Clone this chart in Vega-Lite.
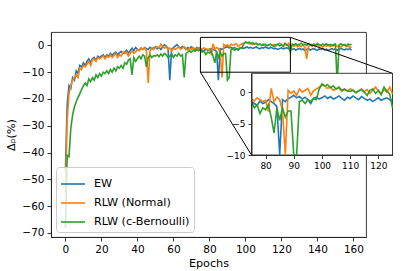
{
"$schema":"https://vega.github.io/schema/vega-lite/v6.json",
"width":315,"height":205,"autosize":"none",
"padding":{"left":51,"top":32,"right":41,"bottom":34},
"config":{"font":"DejaVu Sans","view":{"stroke":"#222","strokeWidth":0.9},
"axis":{"grid":false,"domainColor":"#222","domainWidth":0.9,"tickColor":"#222","tickWidth":0.9,"tickSize":4,"labelColor":"black","titleColor":"black","labelFontSize":10.5,"titleFontSize":11.2,"titleFontWeight":"normal","labelPadding":3,"labelFlush":false,"labelOverlap":false},
"axisQuantitative":{"labelOverlap":false}},
"datasets":{"d":[
{"e":0,"EW":-47,"RLW (Normal)":-55,"RLW (c-Bernoulli)":-68},
{"e":1,"EW":-22,"RLW (Normal)":-28,"RLW (c-Bernoulli)":-41},
{"e":2,"EW":-15,"RLW (Normal)":-18,"RLW (c-Bernoulli)":-41.5},
{"e":3,"EW":-16,"RLW (Normal)":-15,"RLW (c-Bernoulli)":-31},
{"e":4,"EW":-12,"RLW (Normal)":-13,"RLW (c-Bernoulli)":-26},
{"e":5,"EW":-13,"RLW (Normal)":-12,"RLW (c-Bernoulli)":-23},
{"e":6,"EW":-9.5,"RLW (Normal)":-11,"RLW (c-Bernoulli)":-21},
{"e":7,"EW":-10.5,"RLW (Normal)":-12,"RLW (c-Bernoulli)":-19.5},
{"e":8,"EW":-7.5,"RLW (Normal)":-8.5,"RLW (c-Bernoulli)":-18},
{"e":9,"EW":-8,"RLW (Normal)":-9,"RLW (c-Bernoulli)":-16.5},
{"e":10,"EW":-6.5,"RLW (Normal)":-7.5,"RLW (c-Bernoulli)":-15},
{"e":11,"EW":-7.5,"RLW (Normal)":-8,"RLW (c-Bernoulli)":-14},
{"e":12,"EW":-6,"RLW (Normal)":-7,"RLW (c-Bernoulli)":-15},
{"e":13,"EW":-5,"RLW (Normal)":-6,"RLW (c-Bernoulli)":-12.5},
{"e":14,"EW":-6.5,"RLW (Normal)":-7.5,"RLW (c-Bernoulli)":-13.5},
{"e":15,"EW":-5,"RLW (Normal)":-5.5,"RLW (c-Bernoulli)":-12},
{"e":16,"EW":-4.5,"RLW (Normal)":-5,"RLW (c-Bernoulli)":-13},
{"e":17,"EW":-5.5,"RLW (Normal)":-6,"RLW (c-Bernoulli)":-11},
{"e":18,"EW":-4,"RLW (Normal)":-4.5,"RLW (c-Bernoulli)":-12},
{"e":19,"EW":-4.5,"RLW (Normal)":-5,"RLW (c-Bernoulli)":-10.5},
{"e":20,"EW":-4,"RLW (Normal)":-4.5,"RLW (c-Bernoulli)":-11.5},
{"e":21,"EW":-3.5,"RLW (Normal)":-4,"RLW (c-Bernoulli)":-10},
{"e":22,"EW":-4.5,"RLW (Normal)":-5,"RLW (c-Bernoulli)":-10.5},
{"e":23,"EW":-3.5,"RLW (Normal)":-4,"RLW (c-Bernoulli)":-9.5},
{"e":24,"EW":-4,"RLW (Normal)":-4.5,"RLW (c-Bernoulli)":-10.5},
{"e":25,"EW":-3,"RLW (Normal)":-3.5,"RLW (c-Bernoulli)":-9},
{"e":26,"EW":-3.8,"RLW (Normal)":-4.5,"RLW (c-Bernoulli)":-10},
{"e":27,"EW":-3,"RLW (Normal)":-3.8,"RLW (c-Bernoulli)":-8.5},
{"e":28,"EW":-2.5,"RLW (Normal)":-3,"RLW (c-Bernoulli)":-9.5},
{"e":29,"EW":-3.5,"RLW (Normal)":-4.5,"RLW (c-Bernoulli)":-8},
{"e":30,"EW":-2.8,"RLW (Normal)":-3.5,"RLW (c-Bernoulli)":-8.5},
{"e":31,"EW":-2.2,"RLW (Normal)":-4,"RLW (c-Bernoulli)":-7.5},
{"e":32,"EW":-3,"RLW (Normal)":-2.5,"RLW (c-Bernoulli)":-8.5},
{"e":33,"EW":-2.5,"RLW (Normal)":-3,"RLW (c-Bernoulli)":-6.5},
{"e":34,"EW":-1.8,"RLW (Normal)":-2.5,"RLW (c-Bernoulli)":-7},
{"e":35,"EW":-2.8,"RLW (Normal)":-4,"RLW (c-Bernoulli)":-5.5},
{"e":36,"EW":-2,"RLW (Normal)":-3,"RLW (c-Bernoulli)":-5},
{"e":37,"EW":-1,"RLW (Normal)":-2,"RLW (c-Bernoulli)":-11},
{"e":38,"EW":-2,"RLW (Normal)":-3,"RLW (c-Bernoulli)":-4.5},
{"e":39,"EW":-0.8,"RLW (Normal)":-2.5,"RLW (c-Bernoulli)":-6},
{"e":40,"EW":-1.5,"RLW (Normal)":-1.5,"RLW (c-Bernoulli)":-5},
{"e":41,"EW":-1.8,"RLW (Normal)":-2,"RLW (c-Bernoulli)":-4},
{"e":42,"EW":-1,"RLW (Normal)":-1,"RLW (c-Bernoulli)":-5},
{"e":43,"EW":-1.5,"RLW (Normal)":-1.5,"RLW (c-Bernoulli)":-3.5},
{"e":44,"EW":-0.8,"RLW (Normal)":-1,"RLW (c-Bernoulli)":-4},
{"e":45,"EW":-1.2,"RLW (Normal)":-2,"RLW (c-Bernoulli)":-8},
{"e":46,"EW":-1.5,"RLW (Normal)":-14,"RLW (c-Bernoulli)":-4.5},
{"e":47,"EW":-0.7,"RLW (Normal)":-2,"RLW (c-Bernoulli)":-3.5},
{"e":48,"EW":-1.2,"RLW (Normal)":-1.2,"RLW (c-Bernoulli)":-4.5},
{"e":49,"EW":-1,"RLW (Normal)":-1.5,"RLW (c-Bernoulli)":-3.8},
{"e":50,"EW":-0.5,"RLW (Normal)":-0.8,"RLW (c-Bernoulli)":-4},
{"e":51,"EW":-1.2,"RLW (Normal)":-0.5,"RLW (c-Bernoulli)":-3.5},
{"e":52,"EW":-0.8,"RLW (Normal)":-1,"RLW (c-Bernoulli)":-4.2},
{"e":53,"EW":-1.5,"RLW (Normal)":0.5,"RLW (c-Bernoulli)":-3.2},
{"e":54,"EW":-0.5,"RLW (Normal)":-0.5,"RLW (c-Bernoulli)":-4},
{"e":55,"EW":0.2,"RLW (Normal)":-1,"RLW (c-Bernoulli)":-3},
{"e":56,"EW":-0.3,"RLW (Normal)":-0.3,"RLW (c-Bernoulli)":-3.5},
{"e":57,"EW":-1,"RLW (Normal)":-1.5,"RLW (c-Bernoulli)":-4.5},
{"e":58,"EW":-13,"RLW (Normal)":-1,"RLW (c-Bernoulli)":-4},
{"e":59,"EW":-1.5,"RLW (Normal)":-2,"RLW (c-Bernoulli)":-3.2},
{"e":60,"EW":-0.8,"RLW (Normal)":-1.2,"RLW (c-Bernoulli)":-4.5},
{"e":61,"EW":-0.3,"RLW (Normal)":-1.5,"RLW (c-Bernoulli)":-3.5},
{"e":62,"EW":0.3,"RLW (Normal)":-1,"RLW (c-Bernoulli)":-4},
{"e":63,"EW":-0.5,"RLW (Normal)":-0.5,"RLW (c-Bernoulli)":-3},
{"e":64,"EW":-1,"RLW (Normal)":-1.5,"RLW (c-Bernoulli)":-4},
{"e":65,"EW":-0.4,"RLW (Normal)":-1,"RLW (c-Bernoulli)":-3.5},
{"e":66,"EW":-0.8,"RLW (Normal)":-0.5,"RLW (c-Bernoulli)":-12},
{"e":67,"EW":-1.5,"RLW (Normal)":-1.2,"RLW (c-Bernoulli)":-3},
{"e":68,"EW":-0.8,"RLW (Normal)":-1.8,"RLW (c-Bernoulli)":-2.5},
{"e":69,"EW":-1.2,"RLW (Normal)":-1,"RLW (c-Bernoulli)":-2},
{"e":70,"EW":-0.5,"RLW (Normal)":-1.5,"RLW (c-Bernoulli)":-2.5},
{"e":71,"EW":-1,"RLW (Normal)":-0.8,"RLW (c-Bernoulli)":-1.8},
{"e":72,"EW":-1.6,"RLW (Normal)":-1.2,"RLW (c-Bernoulli)":-2.2},
{"e":73,"EW":-0.8,"RLW (Normal)":-1.5,"RLW (c-Bernoulli)":-1.5},
{"e":74,"EW":-1.2,"RLW (Normal)":-0.8,"RLW (c-Bernoulli)":-2},
{"e":75,"EW":-1.5,"RLW (Normal)":-1.1,"RLW (c-Bernoulli)":-1.5},
{"e":76,"EW":-1.8,"RLW (Normal)":-1.4,"RLW (c-Bernoulli)":-2.5},
{"e":77,"EW":-2.1,"RLW (Normal)":-0.9,"RLW (c-Bernoulli)":-2},
{"e":78,"EW":-1.4,"RLW (Normal)":-1.2,"RLW (c-Bernoulli)":-3.4},
{"e":79,"EW":-1.8,"RLW (Normal)":-1.5,"RLW (c-Bernoulli)":-2.5},
{"e":80,"EW":-1.6,"RLW (Normal)":-1.3,"RLW (c-Bernoulli)":-2.8},
{"e":81,"EW":-1.2,"RLW (Normal)":-3.1,"RLW (c-Bernoulli)":-2},
{"e":82,"EW":-1.5,"RLW (Normal)":0.6,"RLW (c-Bernoulli)":-4},
{"e":83,"EW":-1.8,"RLW (Normal)":-1.5,"RLW (c-Bernoulli)":-6.5},
{"e":84,"EW":-2.3,"RLW (Normal)":-0.8,"RLW (c-Bernoulli)":-2.5},
{"e":85,"EW":-13,"RLW (Normal)":-1.2,"RLW (c-Bernoulli)":-4.5},
{"e":86,"EW":-1.2,"RLW (Normal)":-3,"RLW (c-Bernoulli)":-2.5},
{"e":87,"EW":-1.5,"RLW (Normal)":-12,"RLW (c-Bernoulli)":-4},
{"e":88,"EW":-1,"RLW (Normal)":0.3,"RLW (c-Bernoulli)":-3},
{"e":89,"EW":-0.8,"RLW (Normal)":-0.2,"RLW (c-Bernoulli)":-3},
{"e":90,"EW":-0.5,"RLW (Normal)":0.2,"RLW (c-Bernoulli)":-13},
{"e":91,"EW":-0.9,"RLW (Normal)":-0.5,"RLW (c-Bernoulli)":-12},
{"e":92,"EW":-0.7,"RLW (Normal)":0.5,"RLW (c-Bernoulli)":-1.5},
{"e":93,"EW":-1.1,"RLW (Normal)":0,"RLW (c-Bernoulli)":-1.3},
{"e":94,"EW":-0.8,"RLW (Normal)":0.3,"RLW (c-Bernoulli)":-1.8},
{"e":95,"EW":-1.2,"RLW (Normal)":0.6,"RLW (c-Bernoulli)":-1.2},
{"e":96,"EW":-1.8,"RLW (Normal)":-0.5,"RLW (c-Bernoulli)":-1.5},
{"e":97,"EW":-1,"RLW (Normal)":0.2,"RLW (c-Bernoulli)":-1},
{"e":98,"EW":-0.8,"RLW (Normal)":0.5,"RLW (c-Bernoulli)":-1.2},
{"e":99,"EW":-1.1,"RLW (Normal)":0.8,"RLW (c-Bernoulli)":0.5},
{"e":100,"EW":-0.9,"RLW (Normal)":1.1,"RLW (c-Bernoulli)":1.3},
{"e":101,"EW":-0.6,"RLW (Normal)":1,"RLW (c-Bernoulli)":1},
{"e":102,"EW":-1,"RLW (Normal)":0.6,"RLW (c-Bernoulli)":1.2},
{"e":103,"EW":-0.7,"RLW (Normal)":0.8,"RLW (c-Bernoulli)":0.7},
{"e":104,"EW":-1.1,"RLW (Normal)":0.3,"RLW (c-Bernoulli)":1},
{"e":105,"EW":-0.9,"RLW (Normal)":0.5,"RLW (c-Bernoulli)":0.5},
{"e":106,"EW":-0.6,"RLW (Normal)":0.7,"RLW (c-Bernoulli)":0.8},
{"e":107,"EW":-1,"RLW (Normal)":0.1,"RLW (c-Bernoulli)":0.3},
{"e":108,"EW":-1.3,"RLW (Normal)":0.4,"RLW (c-Bernoulli)":0.5},
{"e":109,"EW":-0.8,"RLW (Normal)":0.2,"RLW (c-Bernoulli)":0.2},
{"e":110,"EW":-1,"RLW (Normal)":0.5,"RLW (c-Bernoulli)":0.1},
{"e":111,"EW":-0.6,"RLW (Normal)":0.3,"RLW (c-Bernoulli)":0.3},
{"e":112,"EW":-0.9,"RLW (Normal)":-0.1,"RLW (c-Bernoulli)":-0.1},
{"e":113,"EW":-1.2,"RLW (Normal)":0.2,"RLW (c-Bernoulli)":0.2},
{"e":114,"EW":-0.7,"RLW (Normal)":0.5,"RLW (c-Bernoulli)":0.4},
{"e":115,"EW":-1,"RLW (Normal)":0.1,"RLW (c-Bernoulli)":0},
{"e":116,"EW":-1.3,"RLW (Normal)":0.4,"RLW (c-Bernoulli)":-0.5},
{"e":117,"EW":-1.1,"RLW (Normal)":-0.2,"RLW (c-Bernoulli)":0.3},
{"e":118,"EW":-1.5,"RLW (Normal)":0.3,"RLW (c-Bernoulli)":0.5},
{"e":119,"EW":-1.2,"RLW (Normal)":0.8,"RLW (c-Bernoulli)":-0.2},
{"e":120,"EW":-0.9,"RLW (Normal)":0.2,"RLW (c-Bernoulli)":0.3},
{"e":121,"EW":-1.3,"RLW (Normal)":-0.3,"RLW (c-Bernoulli)":-0.4},
{"e":122,"EW":-1.1,"RLW (Normal)":0.4,"RLW (c-Bernoulli)":0.8},
{"e":123,"EW":-0.9,"RLW (Normal)":0,"RLW (c-Bernoulli)":0.2},
{"e":124,"EW":-1.2,"RLW (Normal)":0.8,"RLW (c-Bernoulli)":-0.3},
{"e":125,"EW":-1.3,"RLW (Normal)":-0.3,"RLW (c-Bernoulli)":-2.5},
{"e":126,"EW":-1.5,"RLW (Normal)":0.1,"RLW (c-Bernoulli)":0.5},
{"e":127,"EW":-1.2,"RLW (Normal)":-0.3,"RLW (c-Bernoulli)":0.2},
{"e":128,"EW":-1.8,"RLW (Normal)":0.2,"RLW (c-Bernoulli)":0.6},
{"e":129,"EW":-1.4,"RLW (Normal)":-0.5,"RLW (c-Bernoulli)":0.1},
{"e":130,"EW":-1.1,"RLW (Normal)":0,"RLW (c-Bernoulli)":0.4},
{"e":131,"EW":-1.6,"RLW (Normal)":-0.4,"RLW (c-Bernoulli)":0.8},
{"e":132,"EW":-1.3,"RLW (Normal)":0.3,"RLW (c-Bernoulli)":0.2},
{"e":133,"EW":-1.9,"RLW (Normal)":-0.8,"RLW (c-Bernoulli)":0.5},
{"e":134,"EW":-1.5,"RLW (Normal)":-5,"RLW (c-Bernoulli)":0},
{"e":135,"EW":-1.2,"RLW (Normal)":-0.5,"RLW (c-Bernoulli)":0.6},
{"e":136,"EW":-1.7,"RLW (Normal)":0.2,"RLW (c-Bernoulli)":0.3},
{"e":137,"EW":-1.4,"RLW (Normal)":-0.3,"RLW (c-Bernoulli)":-0.2},
{"e":138,"EW":-1.1,"RLW (Normal)":0.1,"RLW (c-Bernoulli)":0.5},
{"e":139,"EW":-1.6,"RLW (Normal)":-0.4,"RLW (c-Bernoulli)":0.2},
{"e":140,"EW":-1.8,"RLW (Normal)":0.3,"RLW (c-Bernoulli)":0.7},
{"e":141,"EW":-1.3,"RLW (Normal)":-0.2,"RLW (c-Bernoulli)":0.3},
{"e":142,"EW":-1.5,"RLW (Normal)":0,"RLW (c-Bernoulli)":0},
{"e":143,"EW":-1.2,"RLW (Normal)":-0.6,"RLW (c-Bernoulli)":0.5},
{"e":144,"EW":-1.7,"RLW (Normal)":0.2,"RLW (c-Bernoulli)":0.2},
{"e":145,"EW":-1.4,"RLW (Normal)":-0.3,"RLW (c-Bernoulli)":0.6},
{"e":146,"EW":-1.9,"RLW (Normal)":0.1,"RLW (c-Bernoulli)":0.1},
{"e":147,"EW":-1.5,"RLW (Normal)":-0.5,"RLW (c-Bernoulli)":0.4},
{"e":148,"EW":-1.2,"RLW (Normal)":0.2,"RLW (c-Bernoulli)":-0.1},
{"e":149,"EW":-1.6,"RLW (Normal)":-0.2,"RLW (c-Bernoulli)":0.3},
{"e":150,"EW":-1.3,"RLW (Normal)":0.3,"RLW (c-Bernoulli)":0.5},
{"e":151,"EW":-1.8,"RLW (Normal)":-0.4,"RLW (c-Bernoulli)":-14},
{"e":152,"EW":-1.5,"RLW (Normal)":0,"RLW (c-Bernoulli)":0.2},
{"e":153,"EW":-1.1,"RLW (Normal)":-0.6,"RLW (c-Bernoulli)":0.6},
{"e":154,"EW":-1.4,"RLW (Normal)":-0.2,"RLW (c-Bernoulli)":0.1},
{"e":155,"EW":-1.7,"RLW (Normal)":0.2,"RLW (c-Bernoulli)":0.4},
{"e":156,"EW":-1.3,"RLW (Normal)":-0.5,"RLW (c-Bernoulli)":-0.2},
{"e":157,"EW":-1.6,"RLW (Normal)":-0.1,"RLW (c-Bernoulli)":0.5},
{"e":158,"EW":-1.2,"RLW (Normal)":-0.8,"RLW (c-Bernoulli)":0.2},
{"e":159,"EW":-1.8,"RLW (Normal)":-0.6,"RLW (c-Bernoulli)":0.4}
]},
"data":{"name":"d"},
"layer":[
{"layer":[
{"transform":[{"fold":["EW","RLW (Normal)","RLW (c-Bernoulli)"],"as":["s","v"]}],
"mark":{"type":"line","strokeWidth":1.6},
"encoding":{
"x":{"field":"e","type":"quantitative","scale":{"domain":[-8,167],"nice":false,"zero":false},"axis":{"values":[0,20,40,60,80,100,120,140,160],"title":"Epochs","titlePadding":3,"labelOverlap":false}},
"y":{"field":"v","type":"quantitative","scale":{"domain":[-71.5,5],"nice":false,"zero":false},"axis":{"values":[-70,-60,-50,-40,-30,-20,-10,0],"title":"Δₚ(%)","titlePadding":5,"labelOverlap":false}},
"color":{"field":"s","type":"nominal","sort":["EW","RLW (Normal)","RLW (c-Bernoulli)"],"scale":{"domain":["EW","RLW (Normal)","RLW (c-Bernoulli)"],"range":["#1f77b4","#ff7f0e","#2ca02c"]},
"legend":{"orient":"bottom-left","offset":5,"title":null,"symbolType":"stroke","symbolSize":576,"symbolStrokeWidth":1.6,"labelFontSize":11.2,"labelColor":"black","labelOffset":8,"fillColor":"rgba(255,255,255,0.8)","strokeColor":"#cccccc","cornerRadius":3,"padding":4,"rowPadding":-7}}}},
{"data":{"values":[{}]},"mark":{"type":"rect","fill":"white","fillOpacity":0,"stroke":"black","strokeWidth":1},
"encoding":{"x":{"datum":75,"type":"quantitative","axis":{"values":[0,20,40,60,80,100,120,140,160],"title":"Epochs","titlePadding":3,"labelOverlap":false}},"x2":{"datum":125},"y":{"datum":-10,"type":"quantitative","axis":{"values":[-70,-60,-50,-40,-30,-20,-10,0],"title":"Δₚ(%)","titlePadding":5,"labelOverlap":false}},"y2":{"datum":3}}},
{"data":{"values":[{}]},"mark":{"type":"rule","color":"black","strokeWidth":1},
"encoding":{"x":{"datum":75,"type":"quantitative","axis":{"values":[0,20,40,60,80,100,120,140,160],"title":"Epochs","titlePadding":3,"labelOverlap":false}},"x2":{"datum":103.4},"y":{"datum":-10,"type":"quantitative","axis":{"values":[-70,-60,-50,-40,-30,-20,-10,0],"title":"Δₚ(%)","titlePadding":5,"labelOverlap":false}},"y2":{"datum":-40.9}}},
{"data":{"values":[{}]},"mark":{"type":"rule","color":"black","strokeWidth":1},
"encoding":{"x":{"datum":125,"type":"quantitative","axis":{"values":[0,20,40,60,80,100,120,140,160],"title":"Epochs","titlePadding":3,"labelOverlap":false}},"x2":{"datum":181.7},"y":{"datum":3,"type":"quantitative","axis":{"values":[-70,-60,-50,-40,-30,-20,-10,0],"title":"Δₚ(%)","titlePadding":5,"labelOverlap":false}},"y2":{"datum":-10.4}}}
]},
{"layer":[
{"data":{"values":[{}]},"mark":{"type":"rect","fill":"white","stroke":"#222","strokeWidth":0.9},
"encoding":{"x":{"datum":75,"type":"quantitative","scale":{"domain":[75,125],"range":[200.5,341.5],"clamp":true,"nice":false,"zero":false},"axis":{"orient":"bottom","offset":-82,"values":[80,90,100,110,120],"title":null,"labelFontSize":9,"tickSize":3.5,"zindex":1,"labelOverlap":false,"format":"d"}},"x2":{"datum":125},
"y":{"datum":-10,"type":"quantitative","scale":{"domain":[-10,3],"range":[123,41.3],"clamp":true,"nice":false,"zero":false},"axis":{"orient":"left","offset":-200.5,"values":[-10,-5,0],"tickCount":3,"format":"d","title":null,"labelFontSize":9,"tickSize":3.5,"zindex":1,"labelOverlap":false}},"y2":{"datum":3}}},
{"transform":[{"fold":["EW","RLW (Normal)","RLW (c-Bernoulli)"],"as":["s","v"]},{"filter":"datum.e >= 75 && datum.e <= 125"}],
"mark":{"type":"line","strokeWidth":1.6},
"encoding":{
"x":{"field":"e","type":"quantitative","scale":{"domain":[75,125],"range":[200.5,341.5],"clamp":true,"nice":false,"zero":false},"axis":{"orient":"bottom","offset":-82,"values":[80,90,100,110,120],"title":null,"labelFontSize":9,"tickSize":3.5,"zindex":1,"labelOverlap":false,"format":"d"}},
"y":{"field":"v","type":"quantitative","scale":{"domain":[-10,3],"range":[123,41.3],"clamp":true,"nice":false,"zero":false},"axis":{"orient":"left","offset":-200.5,"values":[-10,-5,0],"tickCount":3,"format":"d","title":null,"labelFontSize":9,"tickSize":3.5,"zindex":1,"labelOverlap":false}},
"color":{"field":"s","type":"nominal","scale":{"domain":["EW","RLW (Normal)","RLW (c-Bernoulli)"],"range":["#1f77b4","#ff7f0e","#2ca02c"]},"legend":null}}}
]}
],
"resolve":{"scale":{"x":"independent","y":"independent","color":"independent"},"axis":{"x":"independent","y":"independent"},"legend":{"color":"independent"}}
}
